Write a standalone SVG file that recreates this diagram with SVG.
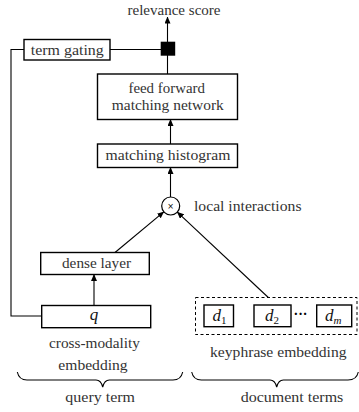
<svg xmlns="http://www.w3.org/2000/svg" width="359" height="412" viewBox="0 0 359 412" font-family="'Liberation Serif', 'DejaVu Serif', 'Times New Roman', serif">
<style>
text{font-family:'Liberation Serif','DejaVu Serif','Times New Roman',serif;font-size:14px;fill:#333;}
.box{fill:#fff;stroke:#000;stroke-width:1.4;}
.conn{fill:none;stroke:#000;stroke-width:1.1;}
.it{font-style:italic;font-size:17px;fill:#111;}
.sub{font-size:11px;font-style:normal;}
</style>
<defs>
<marker id="ah" viewBox="0 0 7 6" refX="6.5" refY="3" markerWidth="7" markerHeight="6" markerUnits="userSpaceOnUse" orient="auto">
<path d="M0,0 L7,3 L0,6 z" fill="#000"/>
</marker>
</defs>
<rect width="359" height="412" fill="#fff"/>
<g id="connectors">
<line class="conn" x1="167.5" y1="42" x2="167.5" y2="17" marker-end="url(#ah)"/>
<line class="conn" x1="167.5" y1="74" x2="167.5" y2="55"/>
<line class="conn" x1="110" y1="49.5" x2="161" y2="49.5"/>
<polyline class="conn" points="24,49.5 11,49.5 11,316 41.7,316"/>
<line class="conn" x1="170.5" y1="144" x2="170.5" y2="119.5" marker-end="url(#ah)"/>
<line class="conn" x1="170.5" y1="197" x2="170.5" y2="167.5" marker-end="url(#ah)"/>
<line class="conn" x1="115" y1="252.5" x2="163.8" y2="211.8" marker-end="url(#ah)"/>
<line class="conn" x1="268.3" y1="297.5" x2="177.3" y2="212.1" marker-end="url(#ah)"/>
<line class="conn" x1="94" y1="305.5" x2="94" y2="274.5" marker-end="url(#ah)"/>
</g>
<g id="relevance-score">
<text x="174" y="15" text-anchor="middle" textLength="93" lengthAdjust="spacingAndGlyphs">relevance score</text>
</g>
<g id="product-node">
<rect x="160.7" y="41.7" width="14.5" height="14" fill="#000"/>
</g>
<g id="term-gating">
<rect class="box" x="24" y="39.5" width="86" height="20.5"/>
<text x="67.3" y="54.5" text-anchor="middle" textLength="73" lengthAdjust="spacingAndGlyphs">term gating</text>
</g>
<g id="feed-forward">
<rect class="box" x="97.5" y="74" width="140" height="45.5"/>
<text x="166.7" y="92.7" text-anchor="middle" textLength="76.5" lengthAdjust="spacingAndGlyphs">feed forward</text>
<text x="167.8" y="110" text-anchor="middle" textLength="112" lengthAdjust="spacingAndGlyphs">matching network</text>
</g>
<g id="matching-histogram">
<rect class="box" x="97.5" y="144" width="140" height="23.5"/>
<text x="168" y="159.5" text-anchor="middle" textLength="125" lengthAdjust="spacingAndGlyphs">matching histogram</text>
</g>
<g id="local-interactions">
<circle cx="170.7" cy="206" r="9" fill="#fff" stroke="#000" stroke-width="1.2"/>
<text x="170.7" y="209" text-anchor="middle" style="font-family:'DejaVu Sans',sans-serif;font-size:8px;fill:#000">×</text>
<text x="194" y="210.7" textLength="107.5" lengthAdjust="spacingAndGlyphs">local interactions</text>
</g>
<g id="dense-layer">
<rect class="box" x="40.7" y="252.5" width="108.6" height="22"/>
<text x="96.5" y="268.3" text-anchor="middle" textLength="69" lengthAdjust="spacingAndGlyphs">dense layer</text>
</g>
<g id="query">
<rect class="box" x="41.7" y="305.5" width="109" height="22.2"/>
<text class="it" x="94" y="319.5" text-anchor="middle">q</text>
<text x="94.5" y="347.5" text-anchor="middle" textLength="91" lengthAdjust="spacingAndGlyphs">cross-modality</text>
<text x="93" y="370" text-anchor="middle" textLength="69.3" lengthAdjust="spacingAndGlyphs">embedding</text>
</g>
<g id="keyphrase-embedding">
<rect x="195.5" y="297.5" width="161.5" height="37" fill="none" stroke="#000" stroke-width="1" stroke-dasharray="3,2.5"/>
<rect class="box" x="204" y="305" width="29.5" height="21.7"/>
<text class="it" x="212.5" y="321">d<tspan class="sub" dy="3">1</tspan></text>
<rect class="box" x="254" y="305" width="37" height="21.7"/>
<text class="it" x="265" y="321">d<tspan class="sub" dy="3">2</tspan></text>
<text x="300.5" y="319" text-anchor="middle" style="font-size:14px;fill:#000;font-weight:bold">···</text>
<rect class="box" x="316.7" y="305" width="35" height="21.7"/>
<text class="it" x="325" y="321">d<tspan class="sub" dy="3" style="font-style:italic">m</tspan></text>
<text x="278.3" y="357.3" text-anchor="middle" textLength="136.5" lengthAdjust="spacingAndGlyphs">keyphrase embedding</text>
</g>
<g id="query-term">
<path class="conn" d="M17.3,372 Q19,380 27,380 L96,380 Q101,380 102.7,387 Q104.4,380 109.4,380 L173,380 Q181,380 182.7,372"/>
<text x="100.2" y="401.7" text-anchor="middle" textLength="69.7" lengthAdjust="spacingAndGlyphs">query term</text>
</g>
<g id="document-terms">
<path class="conn" d="M191.7,372 Q193.4,380 201.4,380 L270,380 Q275,380 276.7,387 Q278.4,380 283.4,380 L348,380 Q356.6,380 358.3,372"/>
<text x="292" y="401.7" text-anchor="middle" textLength="102.7" lengthAdjust="spacingAndGlyphs">document terms</text>
</g>
</svg>
